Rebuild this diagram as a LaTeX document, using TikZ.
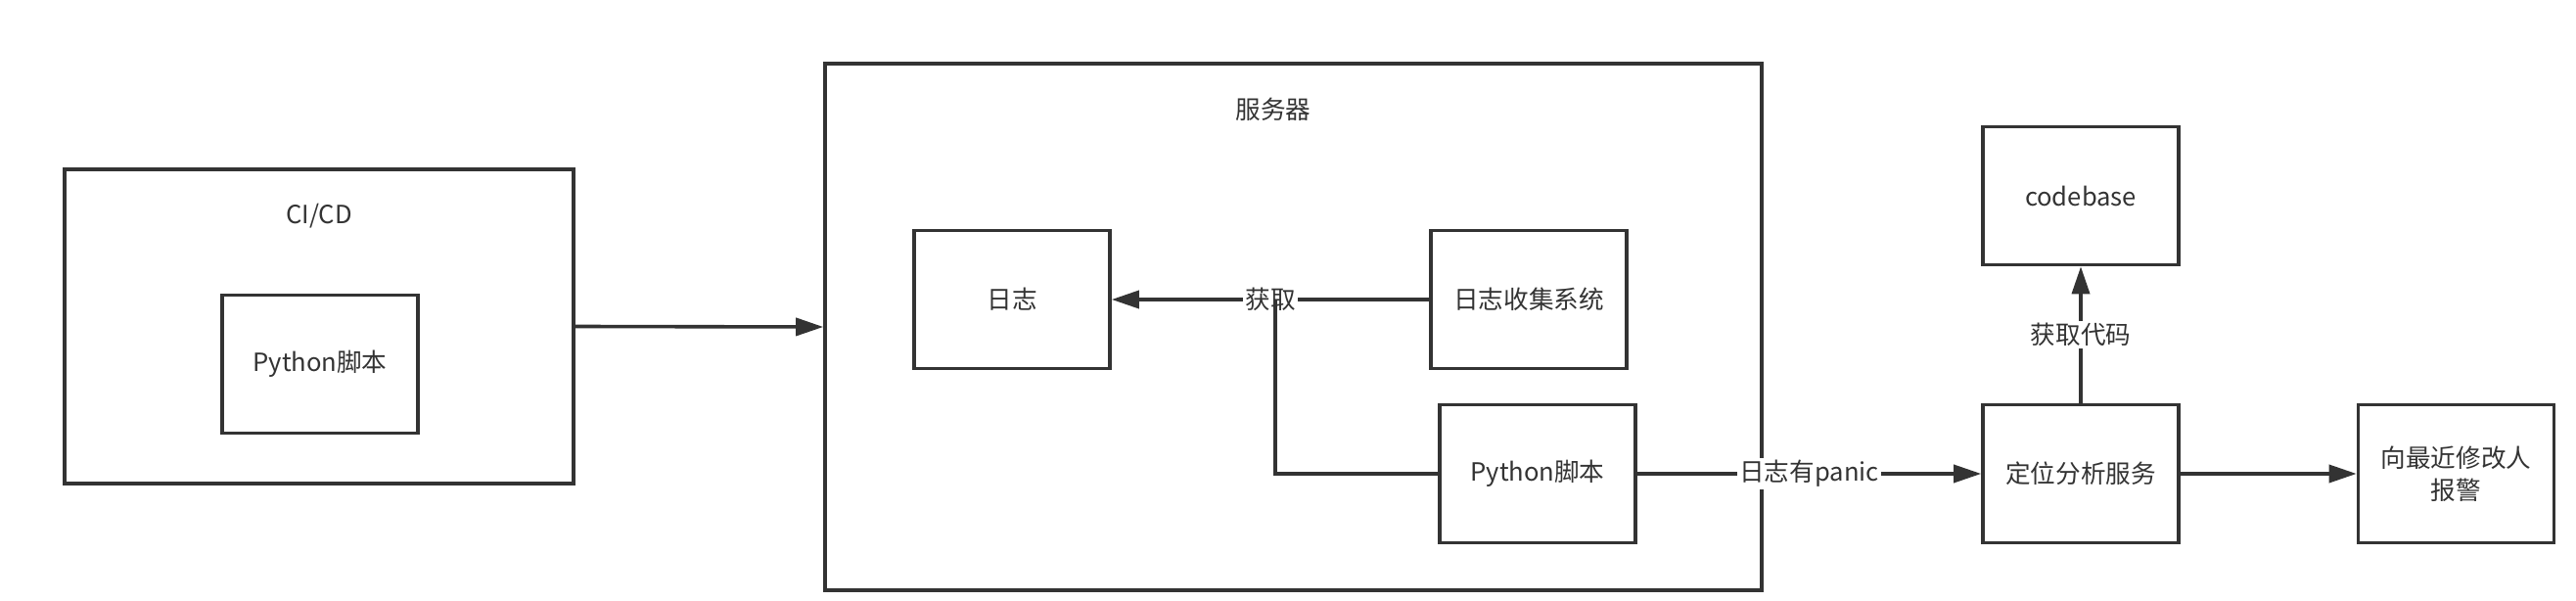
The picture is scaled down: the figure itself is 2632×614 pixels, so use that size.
\documentclass[tikz,border=0pt]{standalone}
\usepackage{fontspec}
\setmainfont{Noto Sans CJK SC}
\usetikzlibrary{arrows.meta}
\definecolor{ink}{HTML}{333333}
\begin{document}
\begin{tikzpicture}[x=0.5pt,y=-0.5pt,
  txt/.style={text=ink, font=\fontsize{12.8pt}{16.5pt}\selectfont},
  box/.style={txt, draw=ink, line width=1.8pt, minimum width=100pt, minimum height=70.5pt, inner sep=2pt, align=center},
  big/.style={draw=ink, line width=1.8pt, inner sep=0pt},
  conn/.style={draw=ink, line width=1.8pt, -{Triangle[length=14pt,width=9pt]}},
  plain/.style={draw=ink, line width=1.8pt},
  lbl/.style={txt, fill=white, inner sep=1pt}]
\useasboundingbox (0,0) rectangle (2632,614);
% containers
\node[big, minimum width=260pt, minimum height=160.5pt] (cicd) at (326,333.5) {};
\node[txt] (cicdt) at (326,221) {CI/CD};
\node[big, minimum width=478.5pt, minimum height=269pt] (server) at (1321.5,334) {};
\node[txt] (servert) at (1301,112) {服务器};
% boxes
\node[box] (py1) at (327,372) {Python脚本};
\node[box] (log) at (1034,306) {日志};
\node[box] (collect) at (1562,306) {日志收集系统};
\node[box] (py2) at (1571,484) {Python脚本};
\node[box] (locate) at (2126,484) {定位分析服务};
\node[box] (codebase) at (2126,200) {codebase};
\node[box] (alert) at (2509.5,484) {向最近修改人\\报警};
% connectors
\draw[conn] (cicd.east) -- (server.west);
\draw[conn] (collect.west) -- node[lbl] {获取} (log.east);
\coordinate (j) at (1303,306);
\draw[plain] (py2.west) -| (j);
\draw[conn] (py2.east) -- node[lbl] {日志有panic} (locate.west);
\draw[conn] (locate.north) -- node[lbl] {获取代码} (codebase.south);
\draw[conn] (locate.east) -- (alert.west);
\end{tikzpicture}
\end{document}
